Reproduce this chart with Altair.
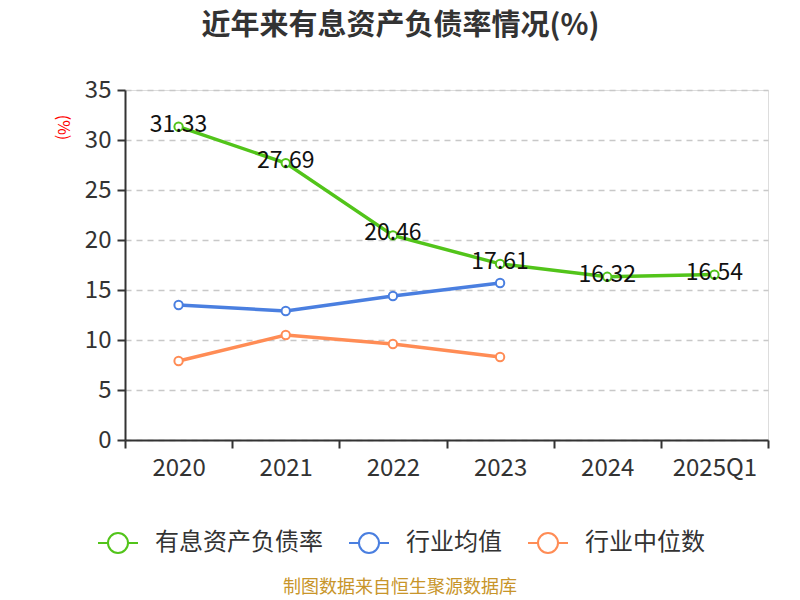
import altair as alt
import pandas as pd

years = ["2020", "2021", "2022", "2023", "2024", "2025Q1"]
debt_ratio = [31.33, 27.69, 20.46, 17.61, 16.32, 16.54]
ind_avg_years = ["2020", "2021", "2022", "2023"]
ind_avg = [13.5, 12.9, 14.4, 15.7]
ind_med = [7.9, 10.5, 9.6, 8.3]

series_names = ["有息资产负债率", "行业均值", "行业中位数"]
colors = ["#52c41a", "#4a7fe0", "#ff8c55"]

rows = []
for y, v in zip(years, debt_ratio):
    rows.append({"year": y, "value": v, "series": series_names[0]})
for y, v in zip(ind_avg_years, ind_avg):
    rows.append({"year": y, "value": v, "series": series_names[1]})
for y, v in zip(ind_avg_years, ind_med):
    rows.append({"year": y, "value": v, "series": series_names[2]})
df = pd.DataFrame(rows)
main = df[df["series"] == series_names[0]].copy()
main["label"] = main["value"].map(lambda v: f"{v:.2f}")

FONT = "Noto Sans CJK SC"
sym_path = "M-1,0L-0.5,0M0.5,0L1,0M0.5,0A0.5,0.5,0,1,1,-0.5,0A0.5,0.5,0,1,1,0.5,0"

x_enc = alt.X("year:N", sort=years, title=None,
              scale=alt.Scale(domain=years, paddingInner=0, paddingOuter=0),
              axis=alt.Axis(labelAngle=0, labelFontSize=24, labelColor="#333",
                            labelFont=FONT, labelPadding=8, tickSize=8,
                            tickColor="#333", domainColor="#333", domainWidth=2,
                            tickWidth=2, tickBand="extent", grid=False))
y_enc = alt.Y("value:Q", title="(%)",
              scale=alt.Scale(domain=[0, 35], nice=False),
              axis=alt.Axis(values=[0, 5, 10, 15, 20, 25, 30, 35], labelFontSize=24,
                            labelColor="#333", labelFont=FONT, labelPadding=6,
                            tickSize=8, tickColor="#333", tickWidth=2,
                            domainColor="#333", domainWidth=2,
                            grid=True, gridDash=[6, 5], gridColor="#c8c8c8",
                            gridWidth=1.5,
                            titleColor="red", titleFontSize=16, titleFont=FONT,
                            titleFontWeight="normal", titleAngle=90,
                            titleX=-63, titleY=37, titleAlign="center",
                            titleBaseline="middle"))
color_enc = alt.Color("series:N",
                      scale=alt.Scale(domain=series_names, range=colors),
                      legend=alt.Legend(title=None, orient="none", direction="horizontal",
                                        legendX=-28, legendY=432,
                                        symbolType=sym_path, symbolSize=1600,
                                        symbolStrokeWidth=2, symbolFillColor="white",
                                        labelFontSize=24, labelFont=FONT,
                                        labelColor="#333", labelOffset=16,
                                        labelLimit=400, columnPadding=22))

base = alt.Chart(df)
lines = base.mark_line(strokeWidth=3.5).encode(x=x_enc, y=y_enc, color=color_enc)
points = base.mark_point(filled=True, fill="white", size=70, strokeWidth=2,
                         opacity=1).encode(
    x=alt.X("year:N", sort=years), y="value:Q",
    stroke=alt.Stroke("series:N", scale=alt.Scale(domain=series_names, range=colors),
                      legend=None))
labels = alt.Chart(main).mark_text(fontSize=23, font=FONT, color="#111",
                                   baseline="middle", dy=-2).encode(
    x=alt.X("year:N", sort=years), y="value:Q", text="label:N")
source = alt.Chart(pd.DataFrame({"t": ["制图数据来自恒生聚源数据库"]})).mark_text(
    fontSize=18, font=FONT, color="#c8952a").encode(
    x=alt.value(275), y=alt.value(498), text="t:N")

chart = alt.layer(lines, points, labels, source).properties(
    width=643, height=350,
    autosize=alt.AutoSizeParams(type="none"),
    padding={"left": 117, "top": 82, "right": 24, "bottom": 158},
    title=alt.TitleParams("近年来有息资产负债率情况(%)", fontSize=29, font=FONT,
                          fontWeight="bold", color="#333", anchor="middle",
                          dx=-46, offset=37),
).configure_view(stroke=None).configure(background="white")

chart.save("out.html", embed_options={"renderer": "svg", "actions": False})
